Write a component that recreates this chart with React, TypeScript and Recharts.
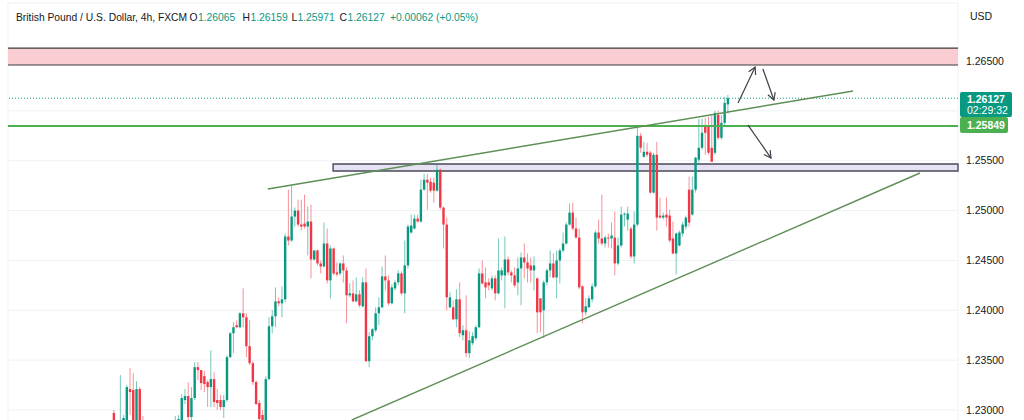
import React from "react";
import {
  ComposedChart,
  Bar,
  XAxis,
  YAxis,
  CartesianGrid,
  ReferenceLine,
  ReferenceArea,
} from "recharts";

// GBPUSD 4h candles (oldest first)
const opens = [
  1.2297, 1.2282, 1.228, 1.2286, 1.2284, 1.2321, 1.232, 1.2284, 1.2321, 1.2282,
  1.2275, 1.2269, 1.2278, 1.2267, 1.2274, 1.228, 1.2273, 1.2282, 1.2286, 1.2281,
  1.2286, 1.2288, 1.231, 1.2314, 1.2293, 1.2312, 1.2343, 1.234, 1.2334, 1.2328,
  1.2323, 1.2331, 1.231, 1.231, 1.2303, 1.231, 1.2353, 1.2377, 1.2385, 1.2383,
  1.2397, 1.2393, 1.2364, 1.2347, 1.2328, 1.2307, 1.2295, 1.2282, 1.2331, 1.2384,
  1.2394, 1.2409, 1.2407, 1.2411, 1.2474, 1.247, 1.2494, 1.25, 1.2486, 1.2487,
  1.2484, 1.2489, 1.2451, 1.246, 1.2447, 1.2444, 1.2467, 1.243, 1.2462, 1.2438,
  1.2437, 1.2447, 1.244, 1.2415, 1.2417, 1.2409, 1.2416, 1.2404, 1.2428, 1.2349,
  1.2374, 1.238, 1.2397, 1.2403, 1.2434, 1.243, 1.2407, 1.2422, 1.2428, 1.2437,
  1.2417, 1.2445, 1.2478, 1.2482, 1.2492, 1.2489, 1.2521, 1.2531, 1.2529, 1.2528,
  1.252, 1.2541, 1.2503, 1.2486, 1.2403, 1.2403, 1.2391, 1.2411, 1.2375, 1.238,
  1.2357, 1.2367, 1.2372, 1.2383, 1.2437, 1.2428, 1.2428, 1.2422, 1.2432, 1.2417,
  1.2435, 1.2435, 1.2451, 1.2438, 1.2435, 1.2428, 1.2442, 1.2453, 1.2448, 1.2445,
  1.244, 1.2432, 1.2412, 1.24, 1.2428, 1.244, 1.2447, 1.2433, 1.245, 1.246,
  1.2467, 1.2486, 1.2498, 1.2482, 1.2473, 1.2424, 1.2398, 1.2403, 1.2411, 1.2424,
  1.2478, 1.2472, 1.2467, 1.2473, 1.2472, 1.2473, 1.2447, 1.2465, 1.2496, 1.2491,
  1.2482, 1.2454, 1.2486, 1.2575, 1.2554, 1.2559, 1.2558, 1.2518, 1.2556, 1.2495,
  1.2493, 1.2496, 1.2495, 1.2472, 1.2457, 1.2465, 1.2477, 1.2484, 1.2521, 1.2496,
  1.2521, 1.2551, 1.2563, 1.2584, 1.2584, 1.2563, 1.2558, 1.2596, 1.2573, 1.2588,
  1.26065,
];
const highs = [
  1.23, 1.229, 1.2335, 1.2295, 1.2325, 1.2342, 1.2337, 1.2329, 1.2323, 1.2294,
  1.2285, 1.2282, 1.2286, 1.228, 1.2284, 1.2288, 1.2286, 1.229, 1.2289, 1.2294,
  1.2295, 1.2316, 1.2321, 1.2328, 1.2323, 1.2348, 1.2348, 1.234, 1.2339, 1.233,
  1.236, 1.2338, 1.2321, 1.2315, 1.2315, 1.2355, 1.2378, 1.2388, 1.239, 1.2398,
  1.2422, 1.2397, 1.239, 1.2349, 1.233, 1.231, 1.23, 1.2334, 1.2393, 1.24,
  1.2423, 1.2413, 1.2424, 1.2477, 1.2521, 1.2525, 1.2503, 1.2511, 1.2511, 1.2516,
  1.2504, 1.2506, 1.246, 1.2461, 1.245, 1.2488, 1.2482, 1.2465, 1.2463, 1.2448,
  1.2448, 1.2455, 1.2443, 1.2427, 1.243, 1.2433, 1.242, 1.2433, 1.2442, 1.2378,
  1.2382, 1.2403, 1.2413, 1.2444, 1.2455, 1.2435, 1.2426, 1.243, 1.244, 1.2439,
  1.247, 1.2486, 1.2496, 1.2496, 1.2496, 1.2531, 1.2537, 1.2537, 1.2533, 1.2533,
  1.2547, 1.2542, 1.2504, 1.2493, 1.2418, 1.241, 1.2421, 1.2428, 1.2385, 1.2415,
  1.2379, 1.2378, 1.2385, 1.2442, 1.245, 1.2443, 1.2432, 1.2435, 1.2435, 1.2472,
  1.2443, 1.2474, 1.2454, 1.244, 1.2443, 1.2453, 1.2458, 1.2467, 1.2457, 1.2453,
  1.2454, 1.2433, 1.2412, 1.243, 1.2442, 1.246, 1.2457, 1.246, 1.2462, 1.2478,
  1.2488, 1.2507, 1.2508, 1.2493, 1.2482, 1.2425, 1.2412, 1.2415, 1.2427, 1.248,
  1.2491, 1.2516, 1.2475, 1.2477, 1.2488, 1.2499, 1.2473, 1.2504, 1.2498, 1.2504,
  1.2484, 1.2499, 1.2584, 1.2578, 1.2569, 1.2568, 1.256, 1.2558, 1.2569, 1.2513,
  1.2498, 1.2513, 1.2501, 1.2489, 1.2478, 1.248, 1.2489, 1.2495, 1.2534, 1.2534,
  1.2554, 1.2592, 1.2592, 1.2593, 1.2594, 1.2595, 1.26, 1.26, 1.2596, 1.2614,
  1.26159,
];
const lows = [
  1.2282, 1.2278, 1.2276, 1.228, 1.2278, 1.2295, 1.228, 1.228, 1.2274, 1.227,
  1.2264, 1.2262, 1.2263, 1.226, 1.2266, 1.2269, 1.2268, 1.2274, 1.2278, 1.2277,
  1.228, 1.228, 1.2306, 1.229, 1.2289, 1.231, 1.233, 1.232, 1.2318, 1.2303,
  1.2303, 1.2303, 1.23, 1.23, 1.2292, 1.2308, 1.2352, 1.2357, 1.2382, 1.2382,
  1.2383, 1.2353, 1.2345, 1.2325, 1.2305, 1.229, 1.2278, 1.2278, 1.233, 1.2377,
  1.2383, 1.2404, 1.2393, 1.2408, 1.2465, 1.2469, 1.2484, 1.2484, 1.248, 1.2482,
  1.2455, 1.2432, 1.245, 1.2445, 1.2437, 1.2443, 1.2427, 1.2412, 1.2435, 1.2434,
  1.2435, 1.2428, 1.2387, 1.2413, 1.2408, 1.2408, 1.2403, 1.2403, 1.2348, 1.2343,
  1.237, 1.2378, 1.2385, 1.2402, 1.242, 1.2405, 1.2406, 1.242, 1.2425, 1.2415,
  1.2397, 1.2442, 1.2477, 1.2481, 1.2488, 1.2488, 1.252, 1.2501, 1.2518, 1.2508,
  1.2519, 1.2501, 1.2462, 1.24, 1.2402, 1.239, 1.2383, 1.2373, 1.237, 1.2353,
  1.2352, 1.2365, 1.237, 1.2382, 1.2426, 1.2412, 1.242, 1.242, 1.241, 1.2416,
  1.243, 1.2402, 1.2435, 1.2428, 1.2423, 1.2415, 1.2405, 1.2432, 1.2428, 1.2428,
  1.242, 1.2377, 1.2378, 1.2372, 1.2425, 1.2433, 1.2432, 1.2412, 1.2427, 1.2458,
  1.2466, 1.2485, 1.248, 1.2472, 1.2421, 1.2387, 1.2395, 1.2402, 1.2408, 1.2423,
  1.2467, 1.2465, 1.2463, 1.2463, 1.2462, 1.2435, 1.2445, 1.2463, 1.2484, 1.248,
  1.2452, 1.2447, 1.2484, 1.2558, 1.2553, 1.2554, 1.2517, 1.2517, 1.248, 1.2492,
  1.2491, 1.2484, 1.2468, 1.2456, 1.2436, 1.2464, 1.2474, 1.2481, 1.2484, 1.2495,
  1.2518, 1.2548, 1.2561, 1.2556, 1.2556, 1.2549, 1.2556, 1.2571, 1.2571, 1.2586,
  1.25971,
];
const closes = [
  1.2287, 1.2286, 1.2288, 1.2292, 1.2323, 1.2318, 1.2284, 1.2321, 1.2282, 1.2275,
  1.2269, 1.2278, 1.2267, 1.2274, 1.228, 1.2273, 1.2282, 1.2286, 1.2281, 1.229,
  1.2291, 1.2312, 1.2314, 1.2293, 1.2312, 1.2343, 1.234, 1.2327, 1.2326, 1.2323,
  1.2331, 1.2308, 1.2307, 1.2303, 1.231, 1.2353, 1.2377, 1.2383, 1.2383, 1.2397,
  1.2393, 1.2364, 1.2347, 1.2328, 1.2306, 1.2291, 1.2282, 1.2331, 1.2384, 1.2394,
  1.2409, 1.2407, 1.2411, 1.2474, 1.247, 1.2494, 1.25, 1.2486, 1.2484, 1.2484,
  1.2489, 1.2451, 1.246, 1.2447, 1.2444, 1.2467, 1.243, 1.2462, 1.2437, 1.2436,
  1.2447, 1.244, 1.2415, 1.2417, 1.2409, 1.2416, 1.2405, 1.2428, 1.2349, 1.2374,
  1.2381, 1.2397, 1.2403, 1.2434, 1.243, 1.2407, 1.2423, 1.2428, 1.2437, 1.2417,
  1.2445, 1.2484, 1.2485, 1.2492, 1.2489, 1.2521, 1.2531, 1.2528, 1.252, 1.252,
  1.2541, 1.2503, 1.2486, 1.2413, 1.2413, 1.2391, 1.2411, 1.2377, 1.238, 1.2357,
  1.237, 1.2374, 1.2383, 1.2437, 1.2427, 1.2423, 1.2425, 1.2432, 1.2417, 1.244,
  1.244, 1.2451, 1.2438, 1.2435, 1.2425, 1.2442, 1.2453, 1.2448, 1.2442, 1.244,
  1.2445, 1.2398, 1.2398, 1.2428, 1.244, 1.2447, 1.2433, 1.245, 1.246, 1.2467,
  1.2486, 1.2498, 1.2482, 1.2473, 1.2423, 1.2398, 1.2404, 1.2412, 1.2424, 1.2478,
  1.2472, 1.2467, 1.2473, 1.2472, 1.2475, 1.2447, 1.2465, 1.2496, 1.2497, 1.2497,
  1.2454, 1.2486, 1.2575, 1.2563, 1.2559, 1.2556, 1.2518, 1.2556, 1.2493, 1.2493,
  1.2495, 1.2493, 1.247, 1.2457, 1.2477, 1.2478, 1.2486, 1.2493, 1.2488, 1.2521,
  1.2553, 1.2563, 1.2578, 1.2578, 1.2558, 1.2549, 1.2598, 1.2573, 1.2588, 1.2608,
  1.26127,
];

const priceTicks = [1.23, 1.235, 1.24, 1.245, 1.25, 1.255, 1.26, 1.265];
// weekly separators, in candle-index units
const weekTicks = [-14.5, 15.3, 45.0, 74.8, 104.6, 134.4, 164.2, 194.0, 223.8, 253.6];

// drawings (candle index, price)
const resistanceZone = [1.2646, 1.2663];
const supportZone = [1.25397, 1.25467];
const supportZoneFrom = 67.8;
const breakoutLevel = 1.25849;
const lastPrice = 1.26127;
const upperTrend = [{ x: 47.6, y: 1.25216 }, { x: 228.7, y: 1.26199 }];
const lowerTrend = [{ x: 73.6, y: 1.229 }, { x: 249.4, y: 1.25377 }];
const arrows = [
  [{ x: 193.1, y: 1.26079 }, { x: 198.4, y: 1.2644 }],
  [{ x: 200.8, y: 1.2642 }, { x: 204.2, y: 1.26109 }],
  [{ x: 196.2, y: 1.25858 }, { x: 203.3, y: 1.25527 }],
];

const data = opens.map((o, i) => ({
  i,
  open: o,
  high: highs[i],
  low: lows[i],
  close: closes[i],
}));

const UP = "#089981";
const DOWN = "#f23645";
const INK = "#131722";
const FONT = "'Liberation Sans', Arial, sans-serif";

// plot spans x 8..958, first candle at 114, last at 728
const step = (728 - 114) / (data.length - 1);
const xMin = -(114 - 8) / step;
const xMax = xMin + 950 / step;

const Candle = (props: any) => {
  const { x, y, width, height, payload } = props;
  if (!payload) return null;
  const top = Math.min(y, y + height);
  const span = Math.abs(height);
  const k = span / (payload.high - payload.low);
  const yOf = (p: number) => top + (payload.high - p) * k;
  const cx = x + width / 2;
  const color = payload.close >= payload.open ? UP : DOWN;
  const bTop = yOf(Math.max(payload.open, payload.close));
  const bBot = yOf(Math.min(payload.open, payload.close));
  return (
    <g>
      <line x1={cx} x2={cx} y1={top} y2={top + span} stroke={color} strokeOpacity={0.55} />
      <rect x={cx - 1.2} y={bTop} width={2.4} height={Math.max(bBot - bTop, 1)} fill={color} />
    </g>
  );
};

const Arrow = (p: any) => {
  const { x1, y1, x2, y2 } = p;
  const a = Math.atan2(y2 - y1, x2 - x1);
  const len = 8;
  const h1x = x2 - len * Math.cos(a - 0.5);
  const h1y = y2 - len * Math.sin(a - 0.5);
  const h2x = x2 - len * Math.cos(a + 0.5);
  const h2y = y2 - len * Math.sin(a + 0.5);
  return (
    <g stroke="#3d4049" strokeWidth={1.2} fill="none">
      <line x1={x1} y1={y1} x2={x2} y2={y2} />
      <polyline points={`${h1x},${h1y} ${x2},${y2} ${h2x},${h2y}`} />
    </g>
  );
};

export default function App() {
  return (
    <div
      style={{
        position: "absolute",
        left: 0,
        top: 0,
        width: 1024,
        height: 420,
        overflow: "hidden",
        background: "#fff",
      }}
    >
      <ComposedChart
        width={1024}
        height={480}
        data={data}
        margin={{ top: 3, right: 0, left: 8, bottom: 0 }}
      >
        <CartesianGrid stroke="#eef1f6" />
        <XAxis
          dataKey="i"
          type="number"
          domain={[xMin, xMax]}
          ticks={weekTicks}
          allowDataOverflow
          tick={false}
          tickLine={false}
          axisLine={false}
          height={0}
        />
        <YAxis
          orientation="right"
          width={66}
          domain={[1.22298, 1.27082]}
          ticks={priceTicks}
          allowDataOverflow
          axisLine={false}
          tickLine={false}
          // 1.26000 sits under the last-price tag, so its label is left blank
          tickFormatter={(v: number) => (Math.abs(v - lastPrice) < 0.002 ? "" : v.toFixed(5))}
          tick={{ fontSize: 10.5, fill: INK, fontFamily: FONT }}
        />
        <ReferenceArea
          x1={xMin}
          x2={xMax}
          y1={resistanceZone[0]}
          y2={resistanceZone[1]}
          fill="#f9cdd1"
          fillOpacity={1}
          stroke="none"
          ifOverflow="visible"
        />
        <ReferenceLine y={resistanceZone[0]} stroke="#3d3d3d" strokeWidth={1.2} />
        <ReferenceLine y={resistanceZone[1]} stroke="#3d3d3d" strokeWidth={1.2} />
        <ReferenceArea
          x1={supportZoneFrom}
          x2={xMax}
          y1={supportZone[0]}
          y2={supportZone[1]}
          fill="#e6e2f4"
          fillOpacity={1}
          stroke="#4a4a58"
          strokeWidth={1.4}
          ifOverflow="visible"
        />
        <ReferenceLine y={lastPrice} stroke={UP} strokeDasharray="1 2" />
        <ReferenceLine y={breakoutLevel} stroke="#4caf50" strokeWidth={2} />
        <ReferenceLine segment={upperTrend} stroke="#5e8f56" strokeWidth={1.4} ifOverflow="visible" />
        <ReferenceLine segment={lowerTrend} stroke="#5e8f56" strokeWidth={1.4} ifOverflow="visible" />
        <Bar
          dataKey={(d: any) => [d.low, d.high]}
          barSize={3}
          shape={<Candle />}
          isAnimationActive={false}
        />
        {arrows.map((seg, k) => (
          <ReferenceLine key={k} segment={seg} shape={Arrow} ifOverflow="visible" />
        ))}
      </ComposedChart>

      <svg
        width={1024}
        height={140}
        style={{ position: "absolute", left: 0, top: 0, fontFamily: FONT }}
      >
        {/* legend line */}
        <text y={21} fontSize={10.3} fill={INK}>
          <tspan x={16}>British Pound / U.S. Dollar, 4h, FXCM</tspan>
          <tspan x={189.5}>O</tspan>
          <tspan x={198} fill={UP}>1.26065</tspan>
          <tspan x={242.5}>H</tspan>
          <tspan x={250.5} fill={UP}>1.26159</tspan>
          <tspan x={291.5}>L</tspan>
          <tspan x={297.5} fill={UP}>1.25971</tspan>
          <tspan x={339.5}>C</tspan>
          <tspan x={347.5} fill={UP}>1.26127</tspan>
          <tspan x={390} fill={UP}>+0.00062 (+0.05%)</tspan>
        </text>
        <text x={970} y={20} fontSize={10.5} fill={INK}>USD</text>

        <rect x={960} y={92} width={52} height={25} rx={2} fill={UP} />
        <text x={967} y={103} fontSize={10.5} fill="#fff" fontWeight={600}>1.26127</text>
        <text x={967} y={114} fontSize={10.5} fill="#fff">02:29:32</text>
        <rect x={960} y={117} width={48} height={16} rx={2} fill="#4caf50" />
        <text x={967} y={129} fontSize={10.5} fill="#fff" fontWeight={600}>1.25849</text>
      </svg>
    </div>
  );
}
